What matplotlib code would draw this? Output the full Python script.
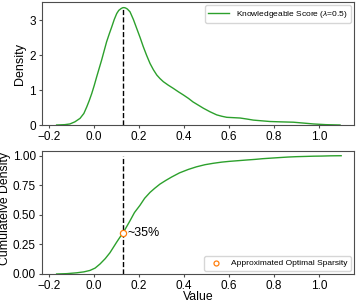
import matplotlib
matplotlib.use('Agg')
from matplotlib import pyplot as plt

plt.rcParams['font.family'] = ['Liberation Sans', 'DejaVu Sans']
plt.rcParams['mathtext.fontset'] = 'custom'
plt.rcParams['mathtext.it'] = 'Liberation Sans:italic'

# density curve (x value, density)
kde_x = [-0.166, -0.13, -0.107, -0.085, -0.062, -0.045, -0.032, -0.021, -0.010, 0.001,
         0.012, 0.023, 0.034, 0.045, 0.056, 0.068, 0.079, 0.09, 0.101, 0.11,
         0.12, 0.127, 0.133, 0.14, 0.148, 0.16, 0.175, 0.19, 0.205, 0.219,
         0.234, 0.249, 0.264, 0.279, 0.293, 0.308, 0.33, 0.352, 0.375, 0.397,
         0.42, 0.44, 0.463, 0.486, 0.515, 0.545, 0.568, 0.59, 0.62, 0.649,
         0.68, 0.708, 0.745, 0.782, 0.83, 0.886, 0.94, 0.975, 1.03, 1.093]
kde_y = [0.0, 0.01, 0.03, 0.09, 0.19, 0.33, 0.52, 0.70, 0.90, 1.13,
         1.38, 1.62, 1.86, 2.12, 2.38, 2.61, 2.81, 3.02, 3.19, 3.28,
         3.33, 3.355, 3.36, 3.35, 3.32, 3.24, 3.02, 2.76, 2.50, 2.24,
         1.99, 1.76, 1.58, 1.43, 1.33, 1.24, 1.14, 1.05, 0.95, 0.86,
         0.76, 0.66, 0.57, 0.48, 0.38, 0.29, 0.25, 0.22, 0.21, 0.20,
         0.17, 0.14, 0.12, 0.10, 0.09, 0.08, 0.05, 0.03, 0.01, 0.0]

# cumulative curve
cdf_x = [-0.166, -0.12, -0.077, -0.045, -0.018, 0.005, 0.027, 0.05, 0.071, 0.086,
         0.101, 0.115, 0.13, 0.145, 0.16, 0.18, 0.204, 0.225, 0.249, 0.27,
         0.293, 0.318, 0.345, 0.38, 0.419, 0.455, 0.493, 0.53, 0.568, 0.6,
         0.64, 0.68, 0.716, 0.75, 0.79, 0.83, 0.864, 0.9, 0.94, 0.975,
         1.012, 1.05, 1.098]
cdf_y = [0.0, 0.003, 0.01, 0.018, 0.03, 0.05, 0.085, 0.13, 0.18, 0.225,
         0.27, 0.31, 0.35, 0.40, 0.45, 0.52, 0.58, 0.64, 0.69, 0.725,
         0.76, 0.79, 0.82, 0.855, 0.884, 0.906, 0.924, 0.936, 0.946, 0.952,
         0.958, 0.964, 0.969, 0.975, 0.98, 0.985, 0.989, 0.992, 0.994, 0.996,
         0.997, 0.999, 1.0]

opt_x = 0.13
opt_cdf = 0.35
peak = 3.36

green = '#2ca02c'
orange = '#ff7f0e'

fig = plt.figure(figsize=(3.57, 3.04), dpi=100)
ax1 = fig.add_axes([0.1176, 0.5888, 0.874, 0.4046])
ax2 = fig.add_axes([0.1176, 0.0987, 0.874, 0.4062])

ax1.plot(kde_x, kde_y, color=green, lw=1.0, label=r'Knowledgeable Score ($\lambda$=0.5)')
ax1.plot([opt_x, opt_x], [0, peak], color='black', ls='--', lw=1.0)
ax1.set_xlim(-0.231, 1.155)
ax1.set_ylim(0, 3.52)
ax1.set_yticks([0, 1, 2, 3])
ax1.set_xticks([-0.2, 0.0, 0.2, 0.4, 0.6, 0.8, 1.0])
ax1.set_ylabel('Density', fontsize=9)
ax1.yaxis.set_label_coords(-0.05, 0.5)
ax1.legend(loc='upper right', fontsize=6, frameon=True, handlelength=2.5,
           borderaxespad=0.4, framealpha=0.8)

ax2.plot(cdf_x, cdf_y, color=green, lw=1.0)
ax2.plot([opt_x, opt_x], [0, 1.0], color='black', ls='--', lw=1.0)
ax2.scatter([opt_x], [opt_cdf], s=20, facecolors='white', edgecolors=orange,
            linewidths=0.9, zorder=5, label='Approximated Optimal Sparsity')
ax2.text(opt_x + 0.02, opt_cdf, '~35%', fontsize=9, va='center', ha='left')
ax2.set_xlim(-0.231, 1.155)
ax2.set_ylim(0, 1.044)
ax2.set_yticks([0.0, 0.25, 0.5, 0.75, 1.0])
ax2.set_yticklabels(['0.00', '0.25', '0.50', '0.75', '1.00'])
ax2.set_xticks([-0.2, 0.0, 0.2, 0.4, 0.6, 0.8, 1.0])
ax2.set_ylabel('Cumulateive Density', fontsize=8.8)
ax2.yaxis.set_label_coords(-0.1, 0.53)
ax2.set_xlabel('Value', fontsize=8.8)
ax2.xaxis.set_label_coords(0.5, -0.135)
ax2.legend(loc='lower right', fontsize=6, frameon=True, borderaxespad=0.4,
           framealpha=0.8, markerscale=0.8)

for ax in (ax1, ax2):
    ax.tick_params(axis='both', labelsize=8.5, length=2.5, width=0.8, pad=2,
                   color='0.3')
    ax.tick_params(axis='x', pad=1.5)
    for sp in ax.spines.values():
        sp.set_color('0.3')
        sp.set_linewidth(0.8)

fig.savefig('out.png', dpi=100)
